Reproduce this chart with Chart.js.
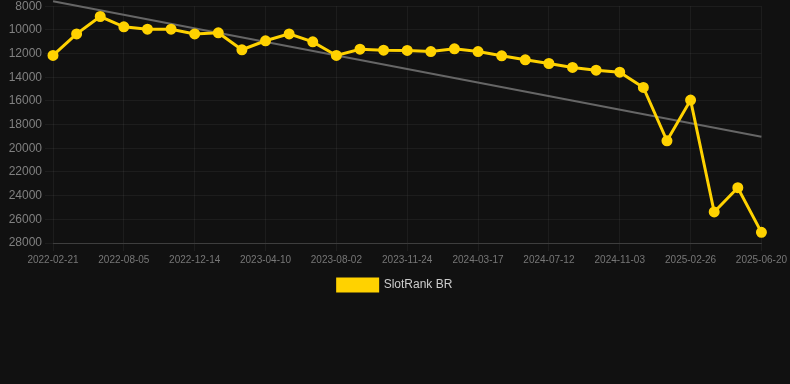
<!DOCTYPE html>
<html>
<head>
<meta charset="utf-8">
<script src="https://cdn.jsdelivr.net/npm/chart.js@4"></script>
<style>
  html, body { margin: 0; padding: 0; background: #111111; overflow: hidden; }
  #wrap { width: 790px; height: 305px; position: relative; top: -4px; }
</style>
</head>
<body>
<div id="wrap"><canvas id="myChart"></canvas></div>
<script>
const labels = [
  '2022-02-21', '2022-04-16', '2022-06-10', '2022-08-05', '2022-09-18', '2022-11-01',
  '2022-12-14', '2023-01-26', '2023-03-09', '2023-04-10', '2023-05-17', '2023-06-25',
  '2023-08-02', '2023-09-08', '2023-10-16', '2023-11-24', '2024-01-02', '2024-02-09',
  '2024-03-17', '2024-04-25', '2024-06-03', '2024-07-12', '2024-08-20', '2024-09-26',
  '2024-11-03', '2024-12-09', '2025-01-20', '2025-02-26', '2025-04-04', '2025-05-13',
  '2025-06-20'
];

const rankValues = [
  12160, 10340, 8870, 9740, 9940, 9940, 10340, 10250, 11680, 10920, 10340,
  11010, 12160, 11630, 11710, 11740, 11830, 11600, 11830, 12190, 12530, 12840,
  13170, 13400, 13570, 14860, 19370, 15930, 25380, 23330, 27100
];

const trendStart = 7580;
const trendEnd = 19030;

const yTicks = { min: 8000, max: 28000, step: 2000 };

window.onload = () => {
  const trend = labels.map((l, i) => i === 0 ? trendStart : (i === labels.length - 1 ? trendEnd : null));

  const ctx = document.getElementById('myChart');

  new Chart(ctx, {
    type: 'line',
    data: {
      labels: labels,
      datasets: [{
        label: 'SlotRank BR',
        data: rankValues,
        borderColor: '#FFD200',
        backgroundColor: '#FFD200',
        borderWidth: 3,
        pointRadius: 4,
        pointHoverRadius: 4,
        tension: 0
      }, {
        label: 'trend',
        data: trend,
        borderColor: '#666666',
        borderWidth: 2,
        pointRadius: 0,
        spanGaps: true,
        clip: false
      }]
    },
    options: {
      responsive: true,
      maintainAspectRatio: false,
      animation: false,
      layout: { padding: 0 },
      scales: {
        x: {
          grid: { color: 'rgba(255,255,255,0.05)' },
          border: { color: 'rgba(255,255,255,0.15)' },
          ticks: {
            color: '#777777',
            font: { size: 10 },
            autoSkip: false,
            maxRotation: 0,
            callback: function (v, i) { return i % 3 === 0 ? this.getLabelForValue(v) : null; }
          }
        },
        y: {
          reverse: true,
          min: yTicks.min,
          max: yTicks.max,
          afterFit: axis => { axis.width = 53; },
          grid: { color: 'rgba(255,255,255,0.05)' },
          border: { display: false },
          ticks: {
            color: '#808080',
            font: { size: 12 },
            stepSize: yTicks.step,
            callback: v => String(v)
          }
        }
      },
      plugins: {
        legend: {
          position: 'bottom',
          labels: {
            color: '#cccccc',
            font: { size: 12 },
            filter: item => item.text !== 'trend'
          }
        },
        tooltip: { enabled: false }
      }
    }
  });
}
</script>
</body>
</html>
